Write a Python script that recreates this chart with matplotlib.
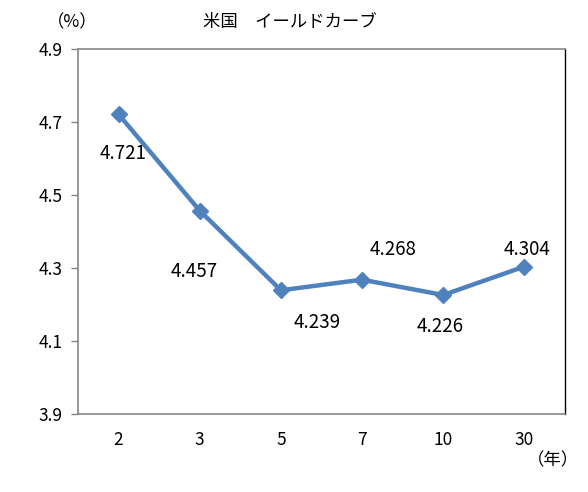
import matplotlib
matplotlib.use("Agg")
import matplotlib.pyplot as plt

plt.rcParams['font.family'] = ['Noto Sans CJK JP', 'DejaVu Sans']

maturities = ["2", "3", "5", "7", "10", "30"]
yields = [4.721, 4.457, 4.239, 4.268, 4.226, 4.304]
yticks = [3.9, 4.1, 4.3, 4.5, 4.7, 4.9]
title = "米国　イールドカーブ"
y_unit = "（%）"
x_unit = "（年）"

# label offsets in points (layout only)
label_offsets = [(3, -28), (-4, -44), (26, -23), (22, 22), (-2, -23), (2, 12)]

fig = plt.figure(figsize=(5.88, 4.92), dpi=100)
ax = fig.add_axes([78/588, 1 - 414/492, (565-78)/588, (414-49)/492])

x = list(range(len(maturities)))
ax.plot(x, yields, color="#4F81BD", lw=3.2, marker="D", markersize=8.5,
        markerfacecolor="#4F81BD", markeredgecolor="#4F81BD", zorder=3)

for xi, v, off in zip(x, yields, label_offsets):
    ax.annotate(f"{v:.3f}", (xi, v), xytext=off, textcoords="offset points",
                ha="center", va="center", fontsize=13.5, color="black")

ax.set_xlim(-0.5, len(maturities) - 0.5)
ax.set_ylim(3.9, 4.9)
ax.set_yticks(yticks)
ax.set_yticklabels([f"{t:.1f}" for t in yticks], fontsize=12.5)
ax.set_xticks(x)
ax.set_xticklabels(maturities, fontsize=12.5)
ax.tick_params(axis="y", length=5, width=1, color="#868686", pad=6)
ax.tick_params(axis="x", length=0, pad=12)

for s in ["left", "top", "bottom"]:
    ax.spines[s].set_color("#868686")
    ax.spines[s].set_linewidth(1.2)
ax.spines["right"].set_color("black")
ax.spines["right"].set_linewidth(1.0)

fig.text(290/588, 1 - 22/492, title, ha="center", va="center", fontsize=12.5)
fig.text(72/588, 1 - 22/492, y_unit, ha="center", va="center", fontsize=12.5)
fig.text(553/588, 1 - 460/492, x_unit, ha="center", va="center", fontsize=12.5)

fig.savefig("out.png", dpi=100)
